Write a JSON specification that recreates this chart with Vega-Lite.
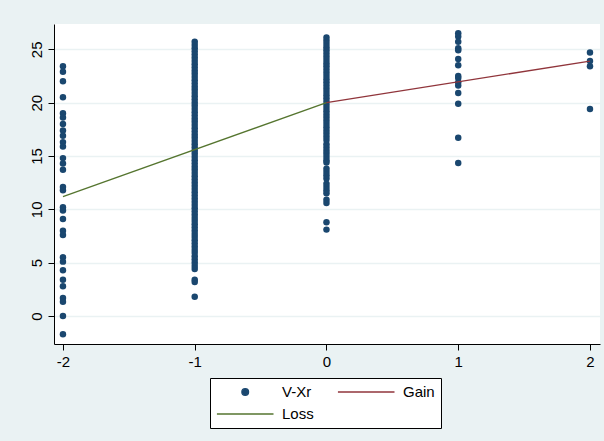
{
  "$schema": "https://vega.github.io/schema/vega-lite/v6.json",
  "width": 546,
  "height": 320,
  "autosize": "none",
  "padding": {"left": 54, "top": 24, "right": 4, "bottom": 97},
  "background": "#EAF2F3",
  "config": {
    "view": {"fill": "white", "stroke": null},
    "font": "Liberation Sans",
    "legend": {
      "title": null, "orient": "none", "legendX": 156, "legendY": 354,
      "columns": 2, "columnPadding": 21, "rowPadding": 6,
      "padding": 6, "fillColor": "white", "strokeColor": "#000000",
      "labelFontSize": 15, "labelColor": "#000000", "labelOffset": 50,
      "symbolSize": 200
    }
  },
  "datasets": {
    "pts": [
      {"x": -2, "y": 23.4}, {"x": -2, "y": 22.9}, {"x": -2, "y": 22.0}, {"x": -2, "y": 20.5},
      {"x": -2, "y": 19.0}, {"x": -2, "y": 18.6}, {"x": -2, "y": 18.0}, {"x": -2, "y": 17.4},
      {"x": -2, "y": 16.9}, {"x": -2, "y": 16.3}, {"x": -2, "y": 15.9}, {"x": -2, "y": 14.8},
      {"x": -2, "y": 14.3}, {"x": -2, "y": 13.7}, {"x": -2, "y": 12.1}, {"x": -2, "y": 11.8},
      {"x": -2, "y": 10.2}, {"x": -2, "y": 9.9}, {"x": -2, "y": 9.1}, {"x": -2, "y": 8.0},
      {"x": -2, "y": 7.6}, {"x": -2, "y": 5.5}, {"x": -2, "y": 5.1}, {"x": -2, "y": 4.3},
      {"x": -2, "y": 3.4}, {"x": -2, "y": 2.8}, {"x": -2, "y": 1.7}, {"x": -2, "y": 1.35},
      {"x": -2, "y": 0.0}, {"x": -2, "y": -1.7},
      {"x": -1, "y": 1.8}, {"x": -1, "y": 3.2}, {"x": -1, "y": 3.4}, {"x": -1, "y": 4.4},
      {"x": -1, "y": 4.7}, {"x": -1, "y": 5.0}, {"x": -1, "y": 5.3}, {"x": -1, "y": 5.6},
      {"x": -1, "y": 5.9}, {"x": -1, "y": 6.2}, {"x": -1, "y": 6.5}, {"x": -1, "y": 6.8},
      {"x": -1, "y": 7.1}, {"x": -1, "y": 7.4}, {"x": -1, "y": 7.7}, {"x": -1, "y": 8.0},
      {"x": -1, "y": 8.3}, {"x": -1, "y": 8.6}, {"x": -1, "y": 8.9}, {"x": -1, "y": 9.2},
      {"x": -1, "y": 9.5}, {"x": -1, "y": 9.8}, {"x": -1, "y": 10.1}, {"x": -1, "y": 10.4},
      {"x": -1, "y": 10.7}, {"x": -1, "y": 11.0}, {"x": -1, "y": 11.3}, {"x": -1, "y": 11.6},
      {"x": -1, "y": 11.9}, {"x": -1, "y": 12.2}, {"x": -1, "y": 12.5}, {"x": -1, "y": 12.8},
      {"x": -1, "y": 13.1}, {"x": -1, "y": 13.4}, {"x": -1, "y": 13.7}, {"x": -1, "y": 14.0},
      {"x": -1, "y": 14.3}, {"x": -1, "y": 14.6}, {"x": -1, "y": 14.9}, {"x": -1, "y": 15.2},
      {"x": -1, "y": 15.5}, {"x": -1, "y": 15.8}, {"x": -1, "y": 16.1}, {"x": -1, "y": 16.4},
      {"x": -1, "y": 16.7}, {"x": -1, "y": 17.0}, {"x": -1, "y": 17.3}, {"x": -1, "y": 17.6},
      {"x": -1, "y": 17.9}, {"x": -1, "y": 18.2}, {"x": -1, "y": 18.5}, {"x": -1, "y": 18.8},
      {"x": -1, "y": 19.1}, {"x": -1, "y": 19.4}, {"x": -1, "y": 19.7}, {"x": -1, "y": 20.0},
      {"x": -1, "y": 20.3}, {"x": -1, "y": 20.6}, {"x": -1, "y": 20.9}, {"x": -1, "y": 21.2},
      {"x": -1, "y": 21.5}, {"x": -1, "y": 21.8}, {"x": -1, "y": 22.1}, {"x": -1, "y": 22.4},
      {"x": -1, "y": 22.7}, {"x": -1, "y": 23.0}, {"x": -1, "y": 23.3}, {"x": -1, "y": 23.6},
      {"x": -1, "y": 23.9}, {"x": -1, "y": 24.2}, {"x": -1, "y": 24.5}, {"x": -1, "y": 24.8},
      {"x": -1, "y": 25.1}, {"x": -1, "y": 25.4}, {"x": -1, "y": 25.7},
      {"x": 0, "y": 8.1}, {"x": 0, "y": 8.8}, {"x": 0, "y": 10.6}, {"x": 0, "y": 10.9},
      {"x": 0, "y": 11.5}, {"x": 0, "y": 11.8}, {"x": 0, "y": 12.1}, {"x": 0, "y": 12.4},
      {"x": 0, "y": 12.9}, {"x": 0, "y": 13.2}, {"x": 0, "y": 13.5}, {"x": 0, "y": 13.8},
      {"x": 0, "y": 14.4}, {"x": 0, "y": 14.6}, {"x": 0, "y": 14.9}, {"x": 0, "y": 15.2},
      {"x": 0, "y": 15.5}, {"x": 0, "y": 15.8}, {"x": 0, "y": 16.1}, {"x": 0, "y": 16.5},
      {"x": 0, "y": 16.8}, {"x": 0, "y": 17.1}, {"x": 0, "y": 17.4}, {"x": 0, "y": 17.7},
      {"x": 0, "y": 18.0}, {"x": 0, "y": 18.3}, {"x": 0, "y": 18.6}, {"x": 0, "y": 18.9},
      {"x": 0, "y": 19.2}, {"x": 0, "y": 19.5}, {"x": 0, "y": 19.8}, {"x": 0, "y": 20.1},
      {"x": 0, "y": 20.4}, {"x": 0, "y": 20.7}, {"x": 0, "y": 21.0}, {"x": 0, "y": 21.3},
      {"x": 0, "y": 21.6}, {"x": 0, "y": 21.9}, {"x": 0, "y": 22.2}, {"x": 0, "y": 22.5},
      {"x": 0, "y": 22.8}, {"x": 0, "y": 23.1}, {"x": 0, "y": 23.4}, {"x": 0, "y": 23.7},
      {"x": 0, "y": 24.0}, {"x": 0, "y": 24.3}, {"x": 0, "y": 24.6}, {"x": 0, "y": 24.9},
      {"x": 0, "y": 25.2}, {"x": 0, "y": 25.5}, {"x": 0, "y": 25.8}, {"x": 0, "y": 26.1},
      {"x": 1, "y": 26.5}, {"x": 1, "y": 26.2}, {"x": 1, "y": 25.7}, {"x": 1, "y": 25.1},
      {"x": 1, "y": 24.9}, {"x": 1, "y": 24.1}, {"x": 1, "y": 23.5}, {"x": 1, "y": 22.5},
      {"x": 1, "y": 22.3}, {"x": 1, "y": 21.9}, {"x": 1, "y": 21.6}, {"x": 1, "y": 20.9},
      {"x": 1, "y": 19.9}, {"x": 1, "y": 16.7}, {"x": 1, "y": 14.35},
      {"x": 2, "y": 24.7}, {"x": 2, "y": 23.9}, {"x": 2, "y": 23.4}, {"x": 2, "y": 19.4}
    ],
    "lines": [
      {"series": "Loss", "x": -2, "y": 11.2},
      {"series": "Loss", "x": 0, "y": 20.0},
      {"series": "Gain", "x": 0, "y": 20.0},
      {"series": "Gain", "x": 2, "y": 23.9}
    ]
  },
  "encoding": {
    "x": {
      "type": "quantitative",
      "scale": {"domain": [-2.068, 2.076], "nice": false, "zero": false},
      "axis": {
        "title": null, "values": [-2, -1, 0, 1, 2], "grid": false,
        "domainColor": "#000000", "domainWidth": 1, "tickColor": "#000000", "tickSize": 6,
        "labelFontSize": 15, "labelColor": "#000000", "labelPadding": 4,
        "labelExpr": "'' + datum.value"
      }
    },
    "y": {
      "type": "quantitative",
      "scale": {"domain": [-2.62, 27.37], "nice": false, "zero": false},
      "axis": {
        "title": null, "values": [0, 5, 10, 15, 20, 25], "grid": true,
        "gridColor": "#EAF2F3", "gridWidth": 1.5,
        "domainColor": "#000000", "domainWidth": 1, "tickColor": "#000000", "tickSize": 6,
        "labelFontSize": 15, "labelColor": "#000000", "labelAngle": -90,
        "labelAlign": "center", "labelBaseline": "bottom", "labelPadding": 4,
        "labelExpr": "'' + datum.value"
      }
    }
  },
  "layer": [
    {
      "data": {"name": "pts"},
      "mark": {"type": "point", "filled": true, "size": 42, "opacity": 1, "strokeWidth": 0},
      "encoding": {
        "x": {"field": "x", "type": "quantitative"},
        "y": {"field": "y", "type": "quantitative"},
        "color": {
          "datum": "V-Xr", "type": "nominal",
          "scale": {"domain": ["V-Xr", "Gain", "Loss"], "range": ["#1A476F", "#90353B", "#55752F"]},
          "legend": {
            "values": ["V-Xr", "Loss", "Gain"],
            "encode": {
              "symbols": {
                "update": {
                  "shape": {"signal": "datum.value === 'V-Xr' ? 'M2.526,0A0.474,0.474,0,1,1,3.474,0A0.474,0.474,0,1,1,2.526,0Z' : 'M-1,0H7'"},
                  "fill": {"signal": "datum.value === 'V-Xr' ? '#1A476F' : 'transparent'"},
                  "stroke": {"signal": "datum.value === 'V-Xr' ? 'transparent' : (datum.value === 'Gain' ? '#90353B' : '#55752F')"},
                  "strokeWidth": {"value": 1.3},
                  "opacity": {"value": 1}
                }
              }
            }
          }
        }
      }
    },
    {
      "data": {"name": "lines"},
      "mark": {"type": "line", "strokeWidth": 1.3},
      "encoding": {
        "x": {"field": "x", "type": "quantitative"},
        "y": {"field": "y", "type": "quantitative"},
        "color": {
          "field": "series", "type": "nominal",
          "scale": {"domain": ["V-Xr", "Gain", "Loss"], "range": ["#1A476F", "#90353B", "#55752F"]},
          "legend": {
            "values": ["V-Xr", "Loss", "Gain"],
            "encode": {
              "symbols": {
                "update": {
                  "shape": {"signal": "datum.value === 'V-Xr' ? 'M2.526,0A0.474,0.474,0,1,1,3.474,0A0.474,0.474,0,1,1,2.526,0Z' : 'M-1,0H7'"},
                  "fill": {"signal": "datum.value === 'V-Xr' ? '#1A476F' : 'transparent'"},
                  "stroke": {"signal": "datum.value === 'V-Xr' ? 'transparent' : (datum.value === 'Gain' ? '#90353B' : '#55752F')"},
                  "strokeWidth": {"value": 1.3},
                  "opacity": {"value": 1}
                }
              }
            }
          }
        }
      }
    }
  ]
}
